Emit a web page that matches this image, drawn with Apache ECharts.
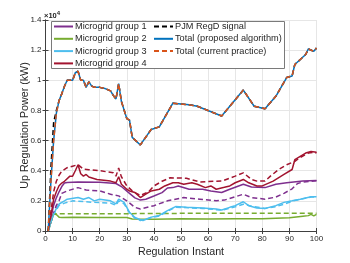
<!DOCTYPE html>
<html><head><meta charset="utf-8">
<script src="https://cdn.jsdelivr.net/npm/echarts@6/dist/echarts.min.js"></script>
<style>html,body{margin:0;padding:0;background:#fff}#c{width:350px;height:263px}</style>
</head><body><div id="c"></div>
<script>
// values in units of 10^4 kW
const g1T = [1,2,3,4,5,6,7,8,12,20,26,28,31,33,35,37,40,43,45,47,49,53,58,61,65,68,73,76,81,85,89,95,100];
const g1V = [0,0.09,0.17,0.22,0.26,0.295,0.318,0.322,0.325,0.323,0.315,0.295,0.25,0.22,0.205,0.211,0.232,0.255,0.285,0.288,0.299,0.277,0.277,0.266,0.255,0.277,0.31,0.292,0.288,0.31,0.32,0.331,0.335];
const g2T = [1,2,3,4,5,6,10,20,30,32,40,50,60,70,80,90,95,97,98,99,100];
const g2V = [0,0.06,0.113,0.11,0.092,0.09,0.092,0.09,0.09,0.08,0.078,0.082,0.08,0.082,0.082,0.088,0.098,0.102,0.11,0.1,0.11];
const g3T = [1,2,3,4,5,7,8,12,14,16,18,20,24,26,27,29,31,33,35,36,39,42,45,48,52,58,63,65,68,70,73,75,78,81,85,88,91,94,98,100];
const g3V = [0,0.06,0.11,0.15,0.179,0.2,0.211,0.222,0.211,0.222,0.2,0.211,0.2,0.18,0.211,0.19,0.124,0.09,0.075,0.07,0.092,0.103,0.135,0.162,0.157,0.152,0.146,0.139,0.157,0.168,0.194,0.168,0.152,0.15,0.168,0.19,0.2,0.211,0.227,0.227];
const g4T = [1,2,3,4,5,6,7,9,10,11,12,13,14,15,16,19,24,26,27,28,30,31,33,35,37,39,42,44,47,49,51,54,56,59,61,63,66,68,70,73,75,78,80,84,88,91,92,94,96,98,100];
const g4V = [0,0.1,0.21,0.26,0.3,0.318,0.33,0.364,0.364,0.4,0.44,0.38,0.364,0.375,0.358,0.342,0.331,0.32,0.36,0.31,0.277,0.266,0.255,0.222,0.244,0.266,0.277,0.299,0.32,0.32,0.31,0.32,0.31,0.288,0.299,0.277,0.29,0.299,0.32,0.342,0.32,0.299,0.299,0.331,0.375,0.408,0.473,0.495,0.517,0.528,0.523];

const g1cT = [1,2,3,4,5,6,8,12,15,20,24,27,30,33,35,40,45,51,57,63,66,73,76,81,85,88,91,93,95,100];
const g1cV = [0,0.06,0.12,0.17,0.2,0.25,0.266,0.288,0.272,0.266,0.244,0.233,0.2,0.157,0.146,0.168,0.2,0.222,0.211,0.2,0.205,0.244,0.222,0.211,0.225,0.25,0.28,0.315,0.325,0.333];
const g2cT = [1,2,3,4,10,30,50,70,90,98,100];
const g2cV = [0,0.06,0.113,0.115,0.115,0.115,0.117,0.117,0.117,0.117,0.117];
const g3cT = [1,2,3,4,5,7,10,14,18,24,26,27,29,31,33,35,39,42,45,48,58,65,70,73,76,81,85,88,91,94,98,100];
const g3cV = [0,0.06,0.11,0.14,0.17,0.185,0.2,0.195,0.19,0.185,0.17,0.2,0.18,0.12,0.085,0.07,0.088,0.1,0.13,0.158,0.15,0.138,0.16,0.178,0.165,0.15,0.162,0.178,0.198,0.21,0.225,0.227];
const g4cT = [1,2,3,4,5,6,8,10,12,14,16,20,25,26,27,28,30,32,35,38,40,43,46,52,57,62,65,70,73,76,78,81,83,86,89,92,94,97,99,100];
const g4cV = [0,0.13,0.26,0.33,0.37,0.397,0.42,0.43,0.44,0.41,0.407,0.4,0.386,0.364,0.418,0.36,0.3,0.266,0.235,0.26,0.299,0.33,0.353,0.35,0.325,0.33,0.331,0.364,0.386,0.342,0.331,0.331,0.364,0.408,0.44,0.462,0.488,0.517,0.523,0.517];

const totT = [1,2,3,4,5,6,7,8,9,10,11,12,13,14,15,16,17,18,20,22,24,25,26,27,28,30,31,32,35,39,42,47,53,56,65,73,77,81,85,89,91,92,96,97,99,100];
const totV = [0,0.33,0.6,0.78,0.865,0.91,0.96,1.0,1.0,1.0,1.05,1.06,1.0,1.0,0.953,0.99,0.963,0.953,0.953,0.945,0.93,0.9,0.876,0.978,0.86,0.746,0.735,0.621,0.571,0.674,0.691,0.848,0.837,0.828,0.763,0.935,0.828,0.811,0.894,1.018,1.029,1.105,1.171,1.208,1.192,1.214];
const curT = totT;
const curV = totV;
const pjmT = [1,2,3,4,5,6,7,8,9,10,11,12,13,14,15,16,17,18,20,22,24,25,26,27,28,30,31,32,35,39,42,47,53,56,65,73,77,81,85,89,91,92,96,97,99,100];
const pjmV = [0,0.42,0.72,0.8,0.865,0.91,0.96,1.0,1.0,1.0,1.05,1.06,1.0,1.0,0.953,0.99,0.963,0.953,0.953,0.945,0.93,0.9,0.876,0.978,0.86,0.746,0.735,0.621,0.571,0.674,0.691,0.848,0.837,0.828,0.763,0.935,0.828,0.811,0.894,1.018,1.029,1.105,1.171,1.208,1.192,1.214];

const xTicks = [0,10,20,30,40,50,60,70,80,90,100];
const yTicks = [0,0.2,0.4,0.6,0.8,1,1.2,1.4];

function pairs(t, v){ return t.map((x,i)=>[x, v[i]]); }
const FONT = '"Liberation Sans", Arial, Helvetica, sans-serif';
const TXT = '#262626';

function mk(name, t, v, color, dashed, z){
  return {
    name, type:'line', data: pairs(t,v), showSymbol:false, symbol:'none',
    xAxisIndex:0, yAxisIndex:0, z: z||2, animation:false,
    lineStyle:{color, width:1.5, type: dashed ? [5,3] : 'solid'},
    itemStyle:{color}
  };
}
const C1='#7E2F8E', C2='#77AC30', C3='#4DBEEE', C4='#A2142F', CB='#0072BD', CO='#D95319';

const legendCommon = {
  orient:'vertical', top:21.5, itemWidth:19, itemHeight:10, itemGap:2.3, z:5, padding:0,
  textStyle:{fontSize:9.2, fontFamily:FONT, color:TXT, lineHeight:10, padding:[0,0,0,-3]},
  itemStyle:{color:'rgba(0,0,0,0)', borderWidth:0, borderColor:'rgba(0,0,0,0)'}
};

const chart = echarts.init(document.getElementById('c'), null, {renderer:'canvas'});
chart.setOption({
  backgroundColor:'#fff',
  animation:false,
  title:{ text:'{a|×10}{b|4}', left:44, top:10, padding:0, textStyle:{ rich:{ a:{fontSize:7.5, color:TXT, fontFamily:FONT}, b:{fontSize:6, color:TXT, fontFamily:FONT, verticalAlign:'top', padding:[0,0,5,0]} } } },
  grid:{ left:45.5, right:33.5, top:20, bottom:29, containLabel:false },
  graphic:[{ type:'rect', z:3, shape:{x:51.5, y:21.5, width:233, height:47}, style:{fill:'#fff', stroke:'#7a7a7a', lineWidth:1} }],
  legend:[
    Object.assign({}, legendCommon, { left:53,
      data:['Microgrid group 1','Microgrid group 2','Microgrid group 3','Microgrid group 4'] }),
    Object.assign({}, legendCommon, { left:153,
      data:['PJM RegD signal','Total (proposed algorithm)','Total (current practice)'] })
  ],
  xAxis:[
    { type:'value', min:0, max:100, interval:10, position:'bottom',
      name:'Regulation Instant', nameLocation:'middle', nameGap:16, nameMoveOverlap:false,
      nameTextStyle:{fontSize:10.7, fontFamily:FONT, color:TXT},
      axisLine:{show:true, lineStyle:{color:'#404040', width:1}},
      axisTick:{show:true, inside:true, length:3, lineStyle:{color:'#404040'}},
      axisLabel:{fontSize:8, fontFamily:FONT, color:TXT, margin:4, formatter:v=>String(v)},
      splitLine:{show:true, lineStyle:{color:'#e6e6e6', width:1}} },
    { type:'value', min:0, max:100, interval:10, position:'top',
      axisLine:{show:true, lineStyle:{color:'#404040', width:1}},
      axisTick:{show:true, inside:true, length:3, lineStyle:{color:'#404040'}},
      axisLabel:{show:false}, splitLine:{show:false} }
  ],
  yAxis:[
    { type:'value', min:0, max:1.4, interval:0.2, position:'left',
      name:'Up Regulation Power (kW)', nameLocation:'middle', nameGap:15, nameMoveOverlap:false,
      nameTextStyle:{fontSize:10.7, fontFamily:FONT, color:TXT},
      axisLine:{show:true, lineStyle:{color:'#404040', width:1}},
      axisTick:{show:true, inside:true, length:3, lineStyle:{color:'#404040'}},
      axisLabel:{fontSize:8, fontFamily:FONT, color:TXT, margin:4, formatter:v=>String(parseFloat(v.toFixed(1)))},
      splitLine:{show:true, lineStyle:{color:'#e6e6e6', width:1}} },
    { type:'value', min:0, max:1.4, interval:0.2, position:'right',
      axisLine:{show:true, lineStyle:{color:'#404040', width:1}},
      axisTick:{show:true, inside:true, length:3, lineStyle:{color:'#404040'}},
      axisLabel:{show:false}, splitLine:{show:false} }
  ],
  series:[
    mk('Microgrid group 1', g1T, g1V, C1, false),
    mk('Microgrid group 2', g2T, g2V, C2, false),
    mk('Microgrid group 3', g3T, g3V, C3, false),
    mk('Microgrid group 4', g4T, g4V, C4, false),
    mk('Microgrid group 1', g1cT, g1cV, C1, true),
    mk('Microgrid group 2', g2cT, g2cV, C2, true),
    mk('Microgrid group 3', g3cT, g3cV, C3, true),
    mk('Microgrid group 4', g4cT, g4cV, C4, true),
    mk('PJM RegD signal', pjmT, pjmV, '#000000', true),
    mk('Total (proposed algorithm)', totT, totV, CB, false),
    mk('Total (current practice)', curT, curV, CO, true)
  ]
});
</script></body></html>
